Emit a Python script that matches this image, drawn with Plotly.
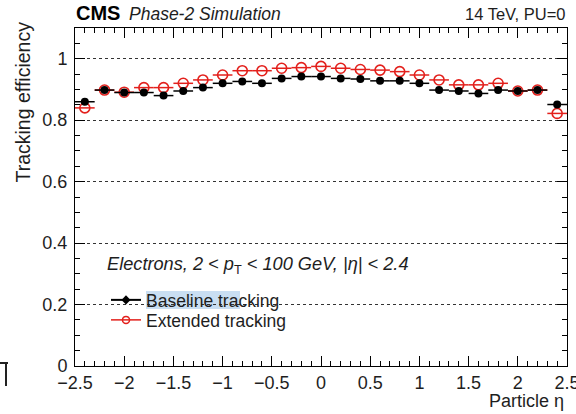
import plotly.graph_objects as go

# ---- data ----
eta = [-2.4, -2.2, -2.0, -1.8, -1.6, -1.4, -1.2, -1.0, -0.8, -0.6, -0.4, -0.2, 0.0,
       0.2, 0.4, 0.6, 0.8, 1.0, 1.2, 1.4, 1.6, 1.8, 2.0, 2.2, 2.4]
baseline = [0.860, 0.898, 0.890, 0.890, 0.880, 0.895, 0.906, 0.920, 0.926, 0.920, 0.936, 0.942, 0.942,
            0.936, 0.934, 0.928, 0.928, 0.920, 0.898, 0.895, 0.887, 0.898, 0.895, 0.898, 0.851]
extended = [0.840, 0.898, 0.891, 0.906, 0.906, 0.920, 0.931, 0.947, 0.961, 0.961, 0.969, 0.971, 0.975,
            0.969, 0.965, 0.963, 0.958, 0.947, 0.931, 0.915, 0.915, 0.920, 0.895, 0.898, 0.822]
bin_half = [0.1] * len(eta)
x_ticks = [-2.5, -2, -1.5, -1, -0.5, 0, 0.5, 1, 1.5, 2, 2.5]
x_ticktext = ["\u22122.5", "\u22122", "\u22121.5", "\u22121", "\u22120.5", "0", "0.5", "1", "1.5", "2", "2.5"]
y_ticks = [0, 0.2, 0.4, 0.6, 0.8, 1.0]
y_ticktext = ["0", "0.2", "0.4", "0.6", "0.8", "1"]

RED = "#e3201c"
FONT = "Liberation Sans, Arial, Helvetica, sans-serif"
TXT = "#1e1e1e"

W, H = 576, 414
L, R, T, B = 75, 9, 28, 48
pw, ph = W - L - R, H - T - B


def px(x):
    return (x - L) / pw


def py(y):
    return (H - B - y) / ph


fig = go.Figure()

# extended (drawn first, below)
fig.add_trace(go.Scatter(
    x=eta, y=extended, mode="markers", showlegend=False,
    marker=dict(symbol="circle-open", size=10, color=RED, line=dict(width=1.6, color=RED)),
    error_x=dict(type="data", array=bin_half, width=0, thickness=1.5, color=RED),
))
# baseline
fig.add_trace(go.Scatter(
    x=eta, y=baseline, mode="markers", showlegend=False,
    marker=dict(symbol="circle", size=8, color="black"),
    error_x=dict(type="data", array=bin_half, width=0, thickness=1.5, color="black"),
))
# legend entries
fig.add_trace(go.Scatter(
    x=[None], y=[None], mode="lines+markers", name="Baseline tracking", legend="legend",
    line=dict(color="black", width=2),
    marker=dict(symbol="diamond", size=7, color="black"),
))
fig.add_trace(go.Scatter(
    x=[None], y=[None], mode="lines+markers", name="Extended tracking", legend="legend2",
    line=dict(color=RED, width=1.5),
    marker=dict(symbol="circle-open", size=7, color=RED, line=dict(width=1.5, color=RED)),
))

axis_common = dict(
    showline=True, linecolor="black", linewidth=1, mirror="ticks",
    ticks="inside", tickcolor="black", tickwidth=1,
    tickfont=dict(family=FONT, size=18, color=TXT),
    zeroline=False, automargin=False,
)

fig.update_xaxes(
    range=[-2.5, 2.5], tickvals=x_ticks, ticktext=x_ticktext, ticklen=10,
    showgrid=False, ticklabeloverflow="allow",
    minor=dict(dtick=0.1, ticklen=5, ticks="inside", tickcolor="black", showgrid=False),
    **axis_common,
)
fig.update_yaxes(
    range=[0, 1.1], tickvals=y_ticks, ticktext=y_ticktext, ticklen=10,
    showgrid=True, gridcolor="#333", griddash="dot", gridwidth=1,
    ticklabelstandoff=3,
    minor=dict(dtick=0.05, ticklen=5, ticks="inside", tickcolor="black", showgrid=False),
    **axis_common,
)

leg_common = dict(
    xanchor="left", yanchor="middle",
    bgcolor="rgba(0,0,0,0)", borderwidth=0,
    font=dict(family=FONT, size=17.5, color=TXT),
    itemwidth=30,
)

fig.update_layout(
    width=W, height=H,
    margin=dict(l=L, r=R, t=T, b=B, pad=0, autoexpand=False),
    paper_bgcolor="white", plot_bgcolor="white",
    font=dict(family=FONT, color=TXT),
    showlegend=True,
    legend=dict(x=px(106), y=py(300), **leg_common),
    legend2=dict(x=px(106), y=py(320), **leg_common),
    shapes=[
        # white legend backdrop hiding the grid line
        dict(type="rect", xref="paper", yref="paper", layer="between",
             x0=px(102), x1=px(288), y0=py(331), y1=py(288),
             fillcolor="white", line=dict(width=0)),
        # selection highlight seen in the reference
        dict(type="rect", xref="paper", yref="paper", layer="between",
             x0=px(146), x1=px(240), y0=py(309), y1=py(291),
             fillcolor="#c9def2", line=dict(width=0)),
        # cropped glyph at bottom-left edge
        dict(type="path", xref="paper", yref="paper", layer="above",
             path=f"M {px(0)},{py(363)} L {px(8)},{py(363)} M {px(6)},{py(363)} L {px(6)},{py(386)}",
             line=dict(color="#222", width=2)),
    ],
    annotations=[
        dict(text="<b>CMS</b>", x=px(74), y=py(13), xref="paper", yref="paper",
             xanchor="left", yanchor="middle", showarrow=False,
             font=dict(family=FONT, size=20, color="black")),
        dict(text="<i>Phase-2 Simulation</i>", x=px(127), y=py(14), xref="paper", yref="paper",
             xanchor="left", yanchor="middle", showarrow=False,
             font=dict(family=FONT, size=17.5, color=TXT)),
        dict(text="14 TeV, PU=0", x=px(567), y=py(14), xref="paper", yref="paper",
             xanchor="right", yanchor="middle", showarrow=False,
             font=dict(family=FONT, size=16.5, color=TXT)),
        dict(text="<i>Electrons, 2 &lt; p</i><sub>T</sub><i> &lt; 100 GeV, |\u03b7| &lt; 2.4</i>",
             x=px(105), y=py(265), xref="paper", yref="paper",
             xanchor="left", yanchor="middle", showarrow=False,
             font=dict(family=FONT, size=18.2, color=TXT)),
        dict(text="Tracking efficiency", x=px(22), y=py(20), xref="paper", yref="paper",
             xanchor="center", yanchor="top", textangle=-90, showarrow=False,
             font=dict(family=FONT, size=19.5, color=TXT)),
        dict(text="Particle \u03b7", x=px(566), y=py(401), xref="paper", yref="paper",
             xanchor="right", yanchor="middle", showarrow=False,
             font=dict(family=FONT, size=18, color=TXT)),
    ],
)

fig.write_html("out.html")
